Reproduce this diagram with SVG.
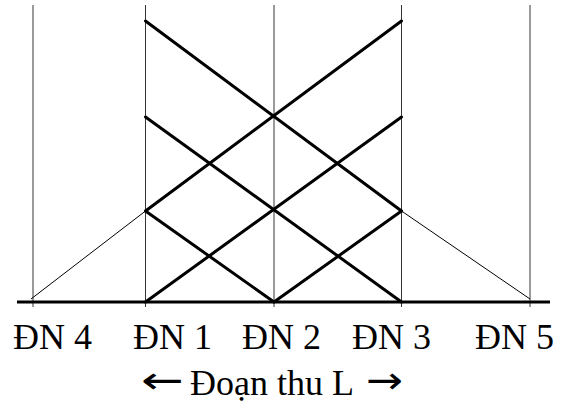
<svg xmlns="http://www.w3.org/2000/svg" width="569" height="402" viewBox="0 0 569 402">
<style>
.grid{stroke:#000;stroke-width:0.8;fill:none}
.thick{stroke:#000;stroke-width:3;fill:none;stroke-linecap:round}
.thin{stroke:#000;stroke-width:1;fill:none}
.base{stroke:#000;stroke-width:3;fill:none}
text{font-family:"Liberation Serif","Times New Roman",serif;font-size:36px;fill:#000}
.arrow{font-family:"DejaVu Sans",sans-serif;font-size:34px}
</style>
<rect width="569" height="402" fill="#fff"/>
<g id="grid">
<line class="grid" x1="33" y1="5" x2="33" y2="307"/>
<line class="grid" x1="145.5" y1="5" x2="145.5" y2="307"/>
<line class="grid" x1="274" y1="5" x2="274" y2="307"/>
<line class="grid" x1="401.5" y1="5" x2="401.5" y2="307"/>
<line class="grid" x1="530" y1="5" x2="530" y2="307"/>
</g>
<g id="baseline">
<line class="base" x1="17" y1="302" x2="550" y2="302"/>
</g>
<g id="connectors">
<line class="thick" x1="145.5" y1="21" x2="401.5" y2="211"/>
<line class="thick" x1="145.5" y1="117" x2="401.5" y2="302"/>
<line class="thick" x1="145.5" y1="211" x2="274" y2="302"/>
<line class="thick" x1="145.5" y1="211" x2="401.5" y2="21"/>
<line class="thick" x1="145.5" y1="302" x2="401.5" y2="117"/>
<line class="thick" x1="274" y1="302" x2="401.5" y2="211"/>
<line class="thin" x1="31" y1="299" x2="145.5" y2="211"/>
<line class="thin" x1="401.5" y1="211" x2="530" y2="299"/>
</g>
<g id="labels">
<text x="13" y="349">ĐN 4</text>
<text x="133" y="349">ĐN 1</text>
<text x="242" y="349">ĐN 2</text>
<text x="352" y="349">ĐN 3</text>
<text x="475" y="349">ĐN 5</text>
<text class="arrow" transform="translate(141,393) scale(1.5,1.1)">←</text>
<text x="190" y="395">Đoạn thu L</text>
<text class="arrow" transform="translate(366,393) scale(1.3,1.1)">→</text>
</g>
</svg>
